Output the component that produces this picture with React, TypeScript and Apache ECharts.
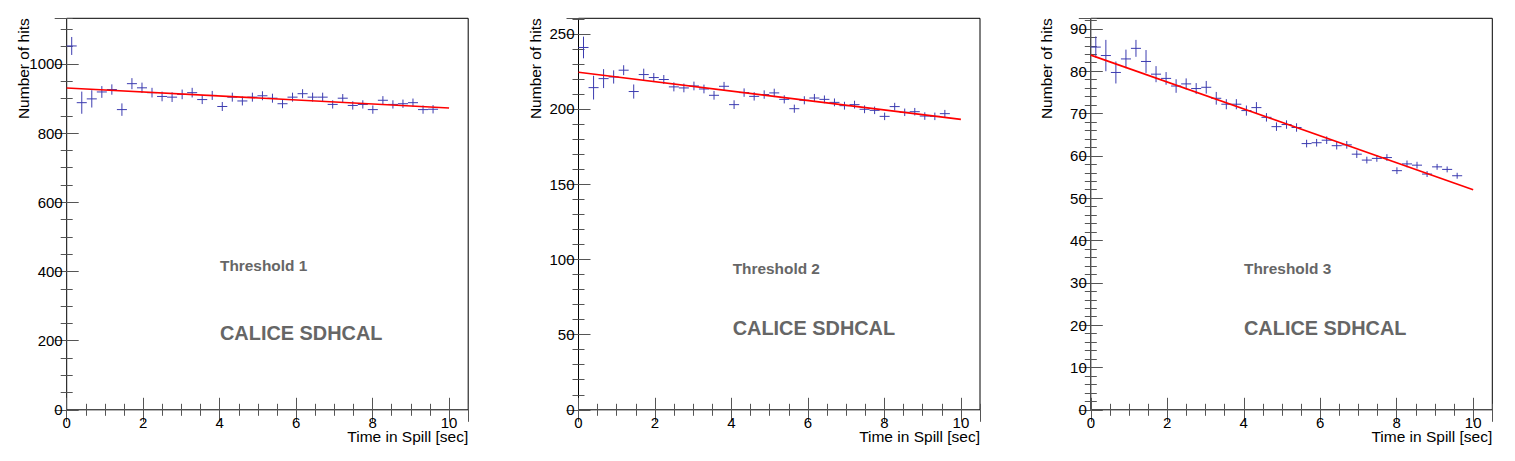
import React, { useEffect, useRef } from "react";
import * as echarts from "echarts";

// ---- data ----
const binCenters = [
  0.131, 0.394, 0.656, 0.919, 1.181, 1.444, 1.706, 1.969, 2.231, 2.494,
  2.756, 3.019, 3.281, 3.544, 3.806, 4.069, 4.331, 4.594, 4.856, 5.119,
  5.381, 5.644, 5.906, 6.169, 6.431, 6.694, 6.956, 7.219, 7.481, 7.744,
  8.006, 8.269, 8.531, 8.794, 9.056, 9.319, 9.581,
];

const hits1 = [
  1052, 888, 899, 919, 926, 868, 943, 931, 917, 906, 904, 912, 917, 897, 909,
  877, 904, 893, 904, 908, 901, 885, 904, 914, 904, 904, 883, 901, 880, 883,
  868, 895, 883, 885, 888, 868, 869,
];
const err1 = [
  26, 32, 25, 17, 15, 18, 16, 15, 14, 14, 14, 14, 14, 13, 13, 13, 13, 13, 13,
  13, 13, 13, 13, 13, 13, 13, 12, 12, 12, 12, 12, 12, 12, 12, 12, 12, 12,
];

const hits2 = [
  240.9, 214.2, 220.2, 221.3, 225.8, 211.6, 222.9, 220.9, 219.6, 214.7, 214.0,
  215.3, 213.3, 209.1, 215.1, 202.9, 210.9, 208.4, 209.6, 210.7, 206.4, 200.2,
  205.8, 207.3, 206.4, 204.4, 202.2, 202.9, 199.8, 199.1, 195.1, 201.6, 197.8,
  198.2, 195.3, 195.1, 196.9,
];
const err2 = [
  7.2, 7.9, 6.3, 4.4, 3.3, 4.7, 3.9, 3.0, 3.0, 3.0, 2.9, 2.9, 2.9, 2.9, 2.9,
  2.9, 2.8, 2.8, 2.8, 2.8, 2.7, 2.7, 2.7, 2.7, 2.6, 2.6, 2.6, 2.6, 2.6, 2.5,
  2.5, 2.5, 2.5, 2.5, 2.5, 2.5, 2.5,
];

const hits3 = [
  85.7, 83.7, 79.7, 82.9, 85.4, 82.3, 79.3, 78.3, 76.5, 77.0, 75.9, 76.2, 73.6,
  72.2, 72.2, 70.7, 71.4, 69.1, 66.9, 67.4, 66.7, 62.9, 63.1, 63.7, 62.4, 62.6,
  60.4, 59.0, 59.4, 59.6, 56.5, 58.1, 57.8, 55.7, 57.4, 56.8, 55.3,
];
const err3 = [
  2.5, 3.7, 2.6, 2.2, 2.0, 2.7, 1.9, 1.5, 1.6, 1.3, 1.3, 1.5, 1.5, 1.2, 1.2,
  1.2, 1.3, 1.0, 1.0, 1.0, 1.0, 0.9, 0.9, 0.9, 0.9, 0.9, 0.9, 0.8, 0.8, 0.8,
  0.8, 0.8, 0.8, 0.7, 0.7, 0.7, 0.7,
];

const fit1 = [[0, 930.5], [10, 872.5]];
const fit2 = [[0, 224.4], [10, 193.1]];
const fit3 = [[0, 83.8], [10, 52.0]];

const thresholdLabels = ["Threshold 1", "Threshold 2", "Threshold 3"];
const experimentLabel = "CALICE SDHCAL";
const xTitle = "Time in Spill [sec]";
const yTitle = "Number of hits";

const xRange = [0, 10.5];
const xMajor = 2;
const xMinor = 0.5;
const yMaxes = [1132, 260.3, 92.5];
const yMajors = [200, 50, 10];
const yMinors = [50, 10, 2];

// ---- styles ----
const FONT = "'Liberation Sans', Arial, Helvetica, sans-serif";
const BIN_HALF = 0.13125;
const MARKER = "#3c3cb0";
const TICK = "#555555";
const gridLefts = [66.7, 578.5, 1090.8];
const GRID_W = 401.5;
const GRID_TOP = 18.3;
const GRID_BOTTOM_Y = 409.8;
const yTitleX = [23.3, 535, 1046.7];
const threshPos = [
  [220, 265],
  [732.7, 268.3],
  [1244, 268.3],
];
const calicePos = [
  [220, 332.7],
  [732.7, 327.7],
  [1244, 327.7],
];

const panelData = [
  { hits: hits1, err: err1, fit: fit1 },
  { hits: hits2, err: err2, fit: fit2 },
  { hits: hits3, err: err3, fit: fit3 },
];

const plainNumber = (v: number) => String(v);

function buildOption() {
  const grid: any[] = [];
  const xAxis: any[] = [];
  const yAxis: any[] = [];
  const series: any[] = [];
  const graphic: any[] = [];

  panelData.forEach((p, g) => {
    grid.push({
      left: gridLefts[g],
      top: GRID_TOP,
      width: GRID_W,
      height: GRID_BOTTOM_Y - GRID_TOP,
      show: true,
      borderColor: "#000",
      borderWidth: 1,
      backgroundColor: "transparent",
    });
    const baseX = {
      gridIndex: g,
      type: "value",
      min: xRange[0],
      max: xRange[1],
      axisLine: { show: false },
      splitLine: { show: false },
    };
    xAxis.push({
      ...baseX,
      position: "bottom",
      interval: xMajor,
      axisTick: { inside: true, length: 12, lineStyle: { color: TICK } },
      axisLabel: {
        show: true,
        margin: 5,
        fontSize: 15,
        color: "#000",
        fontFamily: FONT,
        showMaxLabel: false,
        formatter: plainNumber,
      },
    });
    xAxis.push({
      ...baseX,
      position: "bottom",
      interval: xMinor,
      axisTick: { inside: true, length: 6, lineStyle: { color: TICK } },
      axisLabel: { show: false },
    });
    xAxis.push({
      ...baseX,
      position: "top",
      interval: xMajor,
      axisTick: { inside: true, length: 12, lineStyle: { color: TICK } },
      axisLabel: { show: false },
    });
    xAxis.push({
      ...baseX,
      position: "top",
      interval: xMinor,
      axisTick: { inside: true, length: 6, lineStyle: { color: TICK } },
      axisLabel: { show: false },
    });

    const baseY = {
      gridIndex: g,
      type: "value",
      min: 0,
      max: yMaxes[g],
      axisLine: { show: false },
      splitLine: { show: false },
    };
    yAxis.push({
      ...baseY,
      position: "left",
      interval: yMajors[g],
      axisTick: { inside: true, length: 12, lineStyle: { color: TICK } },
      axisLabel: {
        show: true,
        margin: 4,
        fontSize: 15,
        color: "#000",
        fontFamily: FONT,
        showMaxLabel: false,
        formatter: plainNumber,
      },
    });
    yAxis.push({
      ...baseY,
      position: "left",
      interval: yMinors[g],
      axisTick: { inside: true, length: 6, lineStyle: { color: TICK } },
      axisLabel: { show: false },
    });
    yAxis.push({
      ...baseY,
      position: "right",
      interval: yMajors[g],
      axisTick: { inside: true, length: 12, lineStyle: { color: TICK } },
      axisLabel: { show: false },
    });
    yAxis.push({
      ...baseY,
      position: "right",
      interval: yMinors[g],
      axisTick: { inside: true, length: 6, lineStyle: { color: TICK } },
      axisLabel: { show: false },
    });

    series.push({
      type: "custom",
      xAxisIndex: g * 4,
      yAxisIndex: g * 4,
      data: binCenters.map((c, i) => [c, p.hits[i], p.err[i]]),
      encode: { x: 0, y: 1 },
      z: 3,
      silent: true,
      renderItem: (params: any, api: any) => {
        const x = api.value(0);
        const y = api.value(1);
        const e = api.value(2);
        const l = api.coord([x - BIN_HALF, y]);
        const r = api.coord([x + BIN_HALF, y]);
        const t = api.coord([x, y + e]);
        const b = api.coord([x, y - e]);
        const st = { stroke: MARKER, lineWidth: 1 };
        return {
          type: "group",
          children: [
            { type: "line", shape: { x1: l[0], y1: l[1], x2: r[0], y2: r[1] }, style: st },
            { type: "line", shape: { x1: t[0], y1: t[1], x2: b[0], y2: b[1] }, style: st },
          ],
        };
      },
    });
    series.push({
      type: "line",
      xAxisIndex: g * 4,
      yAxisIndex: g * 4,
      data: p.fit,
      showSymbol: false,
      symbol: "none",
      silent: true,
      z: 4,
      lineStyle: { color: "#ff0000", width: 1.6 },
    });

    graphic.push({
      type: "text",
      x: gridLefts[g] + GRID_W,
      y: 436.5,
      style: {
        text: xTitle,
        fill: "#000",
        font: `15.5px ${FONT}`,
        align: "right",
        textAlign: "right",
        verticalAlign: "middle",
        textVerticalAlign: "middle",
      },
    });
    graphic.push({
      type: "text",
      x: yTitleX[g],
      y: GRID_TOP,
      rotation: Math.PI / 2,
      style: {
        text: yTitle,
        fill: "#000",
        font: `15.5px ${FONT}`,
        align: "right",
        textAlign: "right",
        verticalAlign: "middle",
        textVerticalAlign: "middle",
      },
    });
    graphic.push({
      type: "text",
      x: threshPos[g][0],
      y: threshPos[g][1],
      style: {
        text: thresholdLabels[g],
        fill: "#666666",
        font: `bold 15.4px ${FONT}`,
        align: "left",
        textAlign: "left",
        verticalAlign: "middle",
        textVerticalAlign: "middle",
      },
    });
    graphic.push({
      type: "text",
      x: calicePos[g][0],
      y: calicePos[g][1],
      style: {
        text: experimentLabel,
        fill: "#666666",
        font: `bold 19.9px ${FONT}`,
        align: "left",
        textAlign: "left",
        verticalAlign: "middle",
        textVerticalAlign: "middle",
      },
    });
  });

  return {
    animation: false,
    backgroundColor: "#ffffff",
    grid,
    xAxis,
    yAxis,
    series,
    graphic,
  };
}

export default function App() {
  const ref = useRef<HTMLDivElement>(null);
  useEffect(() => {
    if (!ref.current) return;
    const chart = echarts.init(ref.current, undefined, { renderer: "svg" });
    chart.setOption(buildOption() as any);
    return () => chart.dispose();
  }, []);
  return (
    <div
      ref={ref}
      style={{ position: "absolute", left: 0, top: 0, width: 1515, height: 461 }}
    />
  );
}
